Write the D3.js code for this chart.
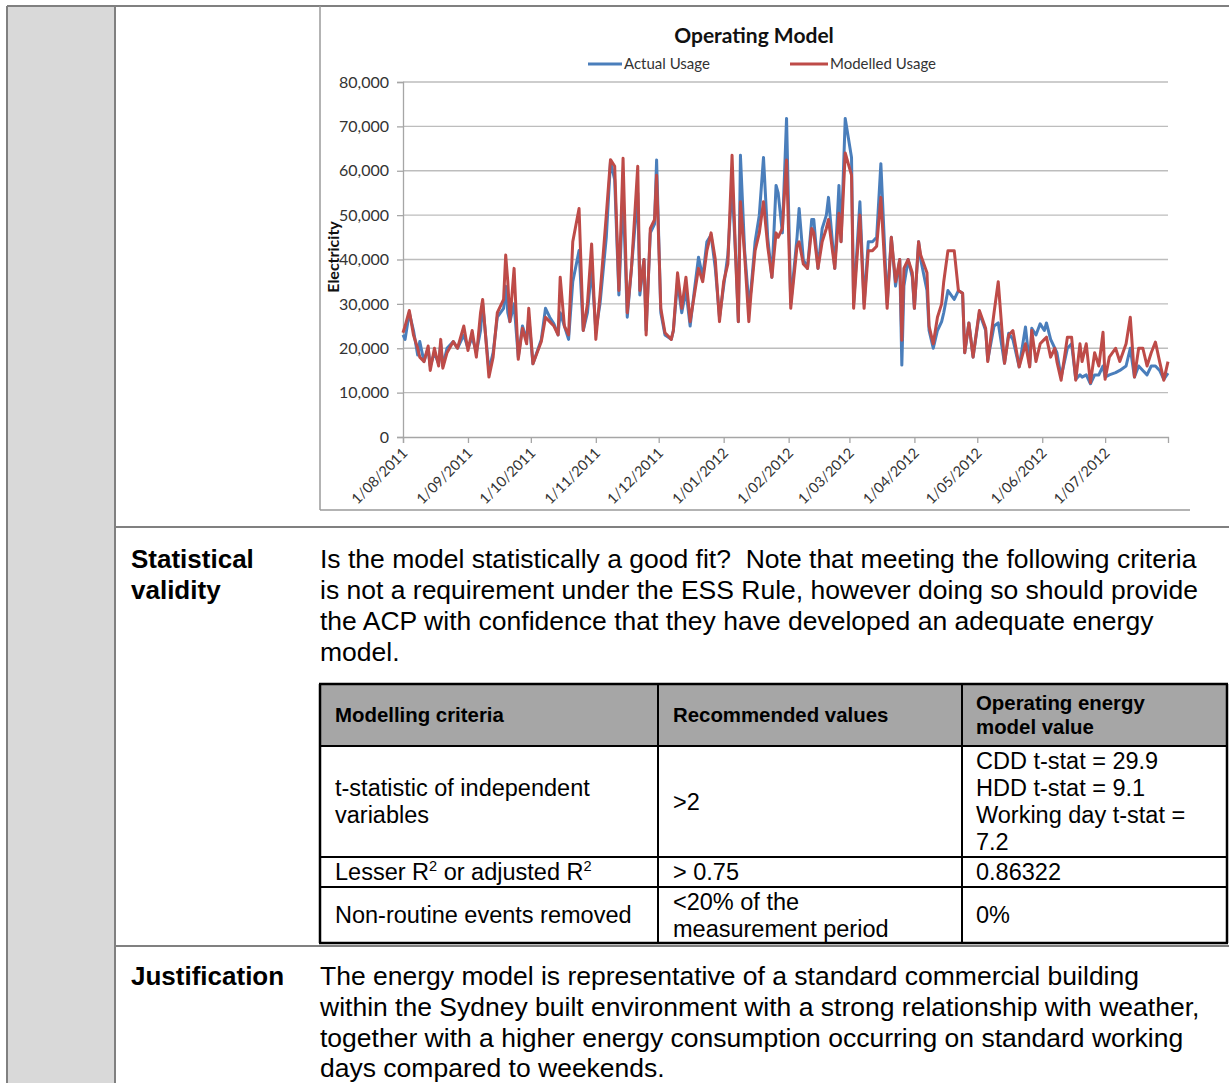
<!DOCTYPE html>
<html><head><meta charset="utf-8">
<script src="https://cdn.jsdelivr.net/npm/d3@7"></script>
<style>
html,body{margin:0;padding:0;background:#fff;}
svg{display:block;}
text{white-space:pre;}
</style></head><body>
<svg id="page" width="1229" height="1083"></svg>
<script>
// ---------------- DATA ----------------
const chartTitle = "Operating Model";
const seriesNames = ["Actual Usage", "Modelled Usage"];
const yAxisTitle = "Electricity";
const yTicks = [0, 10000, 20000, 30000, 40000, 50000, 60000, 70000, 80000];
const xTickDates = ["2011-08-01","2011-09-01","2011-10-01","2011-11-01","2011-12-01","2012-01-01",
  "2012-02-01","2012-03-01","2012-04-01","2012-05-01","2012-06-01","2012-07-01"];
const xDomain = ["2011-08-01", "2012-07-31"];

const dates = [
"2011-08-01","2011-08-02","2011-08-04","2011-08-06","2011-08-08","2011-08-09","2011-08-11","2011-08-13","2011-08-14","2011-08-16","2011-08-18","2011-08-19","2011-08-20","2011-08-22","2011-08-25","2011-08-27","2011-08-30",
"2011-09-01","2011-09-03","2011-09-05","2011-09-07","2011-09-08","2011-09-11","2011-09-13","2011-09-15","2011-09-18","2011-09-19","2011-09-20","2011-09-21","2011-09-23","2011-09-25","2011-09-27","2011-09-29","2011-09-30",
"2011-10-02","2011-10-06","2011-10-08","2011-10-10","2011-10-12","2011-10-14","2011-10-15","2011-10-17","2011-10-19","2011-10-21","2011-10-24","2011-10-26","2011-10-28","2011-10-30",
"2011-11-01","2011-11-03","2011-11-06","2011-11-08","2011-11-10","2011-11-12","2011-11-14","2011-11-16","2011-11-18","2011-11-21","2011-11-22","2011-11-24","2011-11-25","2011-11-27","2011-11-29","2011-11-30",
"2011-12-02","2011-12-04","2011-12-07","2011-12-08","2011-12-10","2011-12-12","2011-12-14","2011-12-16","2011-12-18","2011-12-20","2011-12-22","2011-12-24","2011-12-26","2011-12-28","2011-12-30",
"2012-01-01","2012-01-03","2012-01-05","2012-01-07","2012-01-08","2012-01-09","2012-01-11","2012-01-13","2012-01-14","2012-01-16","2012-01-18","2012-01-20","2012-01-22","2012-01-24","2012-01-26","2012-01-27","2012-01-29","2012-01-31",
"2012-02-02","2012-02-05","2012-02-06","2012-02-08","2012-02-10","2012-02-12","2012-02-13","2012-02-15","2012-02-17","2012-02-19","2012-02-20","2012-02-23","2012-02-25","2012-02-26","2012-02-28",
"2012-03-02","2012-03-03","2012-03-06","2012-03-08","2012-03-10","2012-03-12","2012-03-14","2012-03-16","2012-03-19","2012-03-21","2012-03-23","2012-03-25","2012-03-26","2012-03-27","2012-03-29","2012-03-31",
"2012-04-01","2012-04-03","2012-04-04","2012-04-07","2012-04-08","2012-04-10","2012-04-12","2012-04-14","2012-04-15","2012-04-17","2012-04-20","2012-04-22","2012-04-24","2012-04-25","2012-04-27","2012-04-29",
"2012-05-02","2012-05-05","2012-05-06","2012-05-09","2012-05-11","2012-05-14","2012-05-16","2012-05-18","2012-05-21","2012-05-24","2012-05-26","2012-05-27","2012-05-29","2012-05-31",
"2012-06-02","2012-06-03","2012-06-05","2012-06-07","2012-06-08","2012-06-10","2012-06-13","2012-06-15","2012-06-17","2012-06-19","2012-06-20","2012-06-22","2012-06-24","2012-06-26","2012-06-28","2012-06-30",
"2012-07-01","2012-07-03","2012-07-06","2012-07-08","2012-07-11","2012-07-13","2012-07-15","2012-07-17","2012-07-19","2012-07-21","2012-07-23","2012-07-25","2012-07-27","2012-07-29","2012-07-31"];

const actualUsage = [
23000,22000,28000,24000,18500,21500,17000,20000,16000,19000,16500,21000,16000,20000,21500,20000,23000,
20000,22500,19000,24000,30000,15000,19000,27000,29000,34000,28000,26000,30000,18000,25000,22000,27000,
16500,22000,29000,27000,25500,23000,28000,25000,22000,35000,42000,24000,28000,38000,
24000,30000,45000,62000,58000,32000,55000,27000,38000,55000,32000,40000,24000,46000,48000,62400,
28000,23000,22000,24000,35000,28000,33000,25000,33000,40500,36000,44000,45500,38000,27000,
34000,41000,57000,38000,26000,63500,42000,30000,33000,44000,50000,63000,45000,36000,56700,55000,46000,71800,
30000,45000,51500,40000,38000,49000,49000,38000,47000,50000,54000,38000,56700,44000,71800,
63000,30000,53000,30000,44000,44000,45000,61600,30000,45000,34000,40000,16200,34000,40000,36000,
29000,44000,40000,33000,24000,20000,24000,26000,28000,33000,31000,33000,32400,19000,25700,18000,
28000,24000,17300,25000,25700,16600,23400,22000,15800,24800,16000,24500,23000,25500,
24000,25700,22000,20000,19000,13500,20000,21000,13000,14000,13500,14000,12000,14000,14000,16000,
13500,14000,14500,15000,16000,20000,13500,16000,15000,14000,16000,16000,15000,13000,14400];

const modelledUsage = [
23500,25000,28500,23000,20000,18000,17000,20500,15000,20000,16000,22000,15500,19000,21500,20000,25000,
19500,24000,18000,28000,31000,13500,18000,28000,31000,41000,35000,26000,38000,17500,24500,21000,29000,
16500,21500,27000,26000,25000,23000,36000,25000,23000,44000,51500,24000,30000,43500,
22000,32000,50000,62500,61000,33000,62800,28000,38000,61000,33000,40000,23000,47000,49000,59000,
29000,23500,22000,24000,37000,29000,36000,26000,32000,38000,35000,42000,46000,40000,26000,
35000,39000,63500,37000,26000,53000,41000,26000,32000,42000,46000,53000,43000,36000,46000,45000,47000,62400,
29000,43000,44000,39000,38000,47000,46000,38000,44000,47000,49000,38000,50400,44000,64000,
59000,29000,50000,29000,42000,42000,43000,54000,29000,45000,35000,40000,21800,38000,40000,37000,
29000,44000,41000,37000,25000,21000,27000,30000,35000,42000,42000,33000,32400,19000,25700,18000,
28500,24500,17000,28000,35000,16600,23000,24000,15800,21000,15800,24000,17000,21000,
22000,22500,18000,20000,17000,12800,22500,22500,12800,21000,17000,21000,12200,19000,16000,23600,
13000,18000,20000,17000,21000,27000,13500,20000,20000,16000,19000,21400,17000,12800,17000];

// document texts
const rowLabels = [["Statistical", "validity"], ["Justification"]];
const statParagraph = [
  "Is the model statistically a good fit?  Note that meeting the following criteria",
  "is not a requirement under the ESS Rule, however doing so should provide",
  "the ACP with confidence that they have developed an adequate energy",
  "model."];
const justParagraph = [
  "The energy model is representative of a standard commercial building",
  "within the Sydney built environment with a strong relationship with weather,",
  "together with a higher energy consumption occurring on standard working",
  "days compared to weekends."];
const tableHeader = [["Modelling criteria"], ["Recommended values"], ["Operating energy", "model value"]];
const tableRows = [
  [["t-statistic of independent", "variables"], [">2"], ["CDD t-stat = 29.9", "HDD t-stat = 9.1", "Working day t-stat =", "7.2"]],
  [["Lesser R^2 or adjusted R^2"], ["> 0.75"], ["0.86322"]],
  [["Non-routine events removed"], ["<20% of the", "measurement period"], ["0%"]]
];

// ---------------- DRAW ----------------
const W = 1229, H = 1083;
const svg = d3.select("#page");
const DOC_FONT = "'Liberation Sans', Arial, Helvetica, sans-serif";
const CH_FONT = "Lato, 'Open Sans', sans-serif";
const frameCol = "#808080";

// page frame
svg.append("rect").attr("x", 8).attr("y", 7).attr("width", 107).attr("height", H - 7).attr("fill", "#d9d9d9");
const frame = svg.append("g").attr("stroke", frameCol).attr("stroke-width", 2).attr("fill", "none");
frame.append("line").attr("x1", 7).attr("x2", W).attr("y1", 6).attr("y2", 6);
frame.append("line").attr("x1", 7).attr("x2", 7).attr("y1", 6).attr("y2", H);
frame.append("line").attr("x1", 115).attr("x2", 115).attr("y1", 6).attr("y2", H);
frame.append("line").attr("x1", 115).attr("x2", W).attr("y1", 527).attr("y2", 527);
frame.append("line").attr("x1", 115).attr("x2", W).attr("y1", 946).attr("y2", 946);

// chart image frame
const cf = svg.append("g").attr("stroke", "#9a9a9a").attr("stroke-width", 1.5);
cf.append("line").attr("x1", 320).attr("x2", 320).attr("y1", 6).attr("y2", 510);
cf.append("line").attr("x1", 320).attr("x2", 1190).attr("y1", 510).attr("y2", 510);

// ---- chart ----
const parse = d3.timeParse("%Y-%m-%d");
const x = d3.scaleTime().domain(xDomain.map(parse)).range([403, 1168]);
const y = d3.scaleLinear().domain([0, 80000]).range([437, 82]);
const chart = svg.append("g");

chart.append("g").selectAll("line").data(yTicks.filter(d => d > 0)).join("line")
  .attr("x1", 403).attr("x2", 1168).attr("y1", d => y(d)).attr("y2", d => y(d))
  .attr("stroke", "#bdbdbd").attr("stroke-width", 1.3);

const yAxis = chart.append("g").attr("transform", "translate(403,0)")
  .call(d3.axisLeft(y).tickValues(yTicks).tickSize(6).tickPadding(8).tickFormat(d3.format(",")));
yAxis.select(".domain").attr("stroke", "#a6a6a6").attr("stroke-width", 1.3);
yAxis.selectAll(".tick line").attr("stroke", "#a6a6a6").attr("stroke-width", 1.3);
yAxis.selectAll("text").attr("font-family", CH_FONT).attr("font-size", 16).attr("fill", "#333");

const xAxis = chart.append("g").attr("transform", "translate(0,437)")
  .call(d3.axisBottom(x).tickValues(xTickDates.map(parse)).tickSize(6).tickSizeOuter(6)
    .tickFormat(d3.timeFormat("%-d/%m/%Y")));
xAxis.select(".domain").attr("stroke", "#a6a6a6").attr("stroke-width", 1.3);
xAxis.selectAll(".tick line").attr("stroke", "#a6a6a6").attr("stroke-width", 1.3);
xAxis.selectAll("text").attr("font-family", CH_FONT).attr("font-size", 14.5).attr("fill", "#333")
  .attr("x", 0).attr("y", 0).attr("dy", 0).attr("text-anchor", "end")
  .attr("transform", "translate(5,17) rotate(-45)");

const rows = dates.map((d, i) => ({date: parse(d), a: actualUsage[i], m: modelledUsage[i]}));
const lineA = d3.line().x(d => x(d.date)).y(d => y(d.a));
const lineM = d3.line().x(d => x(d.date)).y(d => y(d.m));
const blue = "#4a7ebb", red = "#be4b48";
chart.append("path").datum(rows).attr("d", lineA).attr("fill", "none").attr("stroke", blue)
  .attr("stroke-width", 3).attr("stroke-linejoin", "round");
chart.append("path").datum(rows).attr("d", lineM).attr("fill", "none").attr("stroke", red)
  .attr("stroke-width", 3).attr("stroke-linejoin", "round");

chart.append("text").text(chartTitle).attr("x", 754).attr("y", 43).attr("text-anchor", "middle")
  .attr("font-family", CH_FONT).attr("font-weight", "bold").attr("font-size", 21).attr("fill", "#111");

const legend = [{name: seriesNames[0], c: blue, x1: 588, x2: 622}, {name: seriesNames[1], c: red, x1: 790, x2: 828}];
legend.forEach(l => {
  chart.append("line").attr("x1", l.x1).attr("x2", l.x2).attr("y1", 64).attr("y2", 64)
    .attr("stroke", l.c).attr("stroke-width", 3);
  chart.append("text").text(l.name).attr("x", l.x2 + 2).attr("y", 69)
    .attr("font-family", CH_FONT).attr("font-size", 15).attr("fill", "#333");
});
chart.append("text").text(yAxisTitle).attr("transform", "translate(339,257) rotate(-90)")
  .attr("text-anchor", "middle").attr("font-family", CH_FONT).attr("font-weight", "bold")
  .attr("font-size", 16).attr("fill", "#111");

// ---- table grid (drawn before its text) ----
const colX = [320, 658, 962, 1227];
const rowY = [684, 746, 857, 887, 943];
const tbl = svg.append("g");
tbl.append("rect").attr("x", colX[0]).attr("y", rowY[0]).attr("width", colX[3] - colX[0])
  .attr("height", rowY[1] - rowY[0]).attr("fill", "#a6a6a6");
rowY.forEach((yy, i) => tbl.append("line").attr("x1", colX[0] - 1).attr("x2", colX[3] + 1)
  .attr("y1", yy).attr("y2", yy).attr("stroke", "#000").attr("stroke-width", (i === 0 || i === rowY.length - 1) ? 2.5 : 2));
colX.forEach((xx, i) => tbl.append("line").attr("x1", xx).attr("x2", xx).attr("y1", rowY[0])
  .attr("y2", rowY[rowY.length - 1]).attr("stroke", "#000").attr("stroke-width", (i === 0 || i === colX.length - 1) ? 2.5 : 2));

// ---- document text ----
const doc = svg.append("g").attr("font-family", DOC_FONT).attr("fill", "#000");
function addText(g, str, xx, yy, size, weight) {
  const t = g.append("text").attr("x", xx).attr("y", yy).attr("font-size", size)
    .attr("font-weight", weight || "normal");
  const parts = str.split("^2");
  let pendingDy = 0;
  parts.forEach((p, i) => {
    if (p.length) {
      const ts = t.append("tspan").text(p);
      if (pendingDy) { ts.attr("dy", pendingDy); pendingDy = 0; }
    }
    if (i < parts.length - 1) {
      t.append("tspan").text("2").attr("font-size", size * 0.62).attr("dy", -size * 0.4);
      pendingDy = size * 0.4;
    }
  });
  return t;
}
rowLabels[0].forEach((s, i) => addText(doc, s, 131, 568 + i * 31, 26, "bold"));
statParagraph.forEach((s, i) => addText(doc, s, 320, 568 + i * 31, 26.5));
rowLabels[1].forEach((s, i) => addText(doc, s, 131, 985, 26, "bold"));
justParagraph.forEach((s, i) => addText(doc, s, 320, 985 + i * 30.8, 26.5));

const textX = [335, 673, 976];
tableHeader.forEach((lines, c) => {
  const cy = (rowY[0] + rowY[1]) / 2, lh = 24;
  lines.forEach((s, k) => addText(doc, s, textX[c], cy - (lines.length - 1) * lh / 2 + k * lh + 7, 20.4, "bold"));
});
tableRows.forEach((row, r) => {
  const cy = (rowY[r + 1] + rowY[r + 2]) / 2, lh = 27;
  row.forEach((lines, c) => {
    lines.forEach((s, k) => addText(doc, s, textX[c], cy - (lines.length - 1) * lh / 2 + k * lh + 8, 23.5));
  });
});
</script>
</body></html>
